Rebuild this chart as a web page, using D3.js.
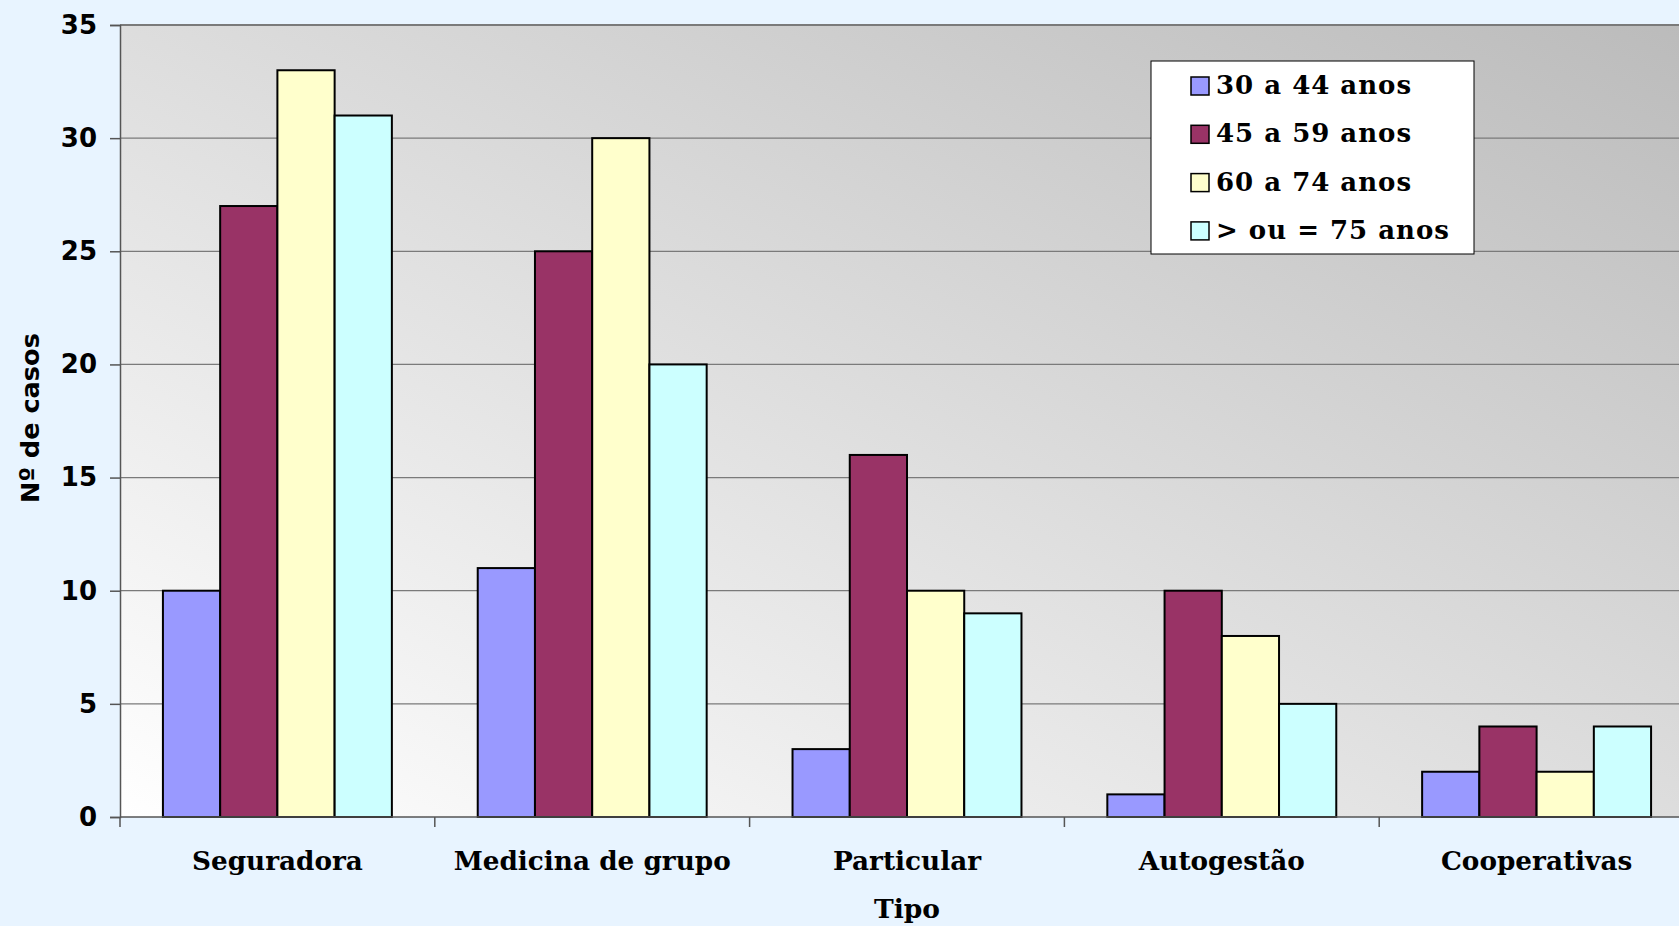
<!DOCTYPE html>
<html>
<head>
<meta charset="utf-8">
<script src="https://cdn.jsdelivr.net/npm/d3@7"></script>
<style>
  html, body { margin: 0; padding: 0; background: #E8F4FF; overflow: hidden; }
  svg { display: block; }
</style>
</head>
<body>
<svg id="chart" width="1679" height="926"></svg>
<script>
const categories = ["Seguradora", "Medicina de grupo", "Particular", "Autogestão", "Cooperativas"];
const seriesNames = ["30 a 44 anos", "45 a 59 anos", "60 a 74 anos", "> ou = 75 anos"];
const seriesColors = ["#9999FF", "#993366", "#FFFFCC", "#CCFFFF"];
const values30a44 = [10, 11, 3, 1, 2];
const values45a59 = [27, 25, 16, 10, 4];
const values60a74 = [33, 30, 10, 8, 2];
const values75mais = [31, 20, 9, 5, 4];
const yTicks = [0, 5, 10, 15, 20, 25, 30, 35];
const xTitle = "Tipo";
const yTitle = "Nº de casos";

const seriesValues = [values30a44, values45a59, values60a74, values75mais];

const svg = d3.select("#chart");
const mLeft = 120, mTop = 25, mBottom = 817;
const catW = 314.8;
const mRight = mLeft + catW * categories.length;

const x = d3.scaleBand().domain(categories).range([mLeft, mRight]).padding(0);
const xs = d3.scaleBand().domain(seriesNames).range([0, x.bandwidth()]).paddingInner(0).paddingOuter(0.75);
const y = d3.scaleLinear().domain([0, 35]).range([mBottom, mTop]);

// gradient (diagonal: white bottom-left to grey top-right)
const defs = svg.append("defs");
const grad = defs.append("linearGradient").attr("id", "plotGrad")
  .attr("x1", 0).attr("y1", 1).attr("x2", 1).attr("y2", 0);
grad.append("stop").attr("offset", "0%").attr("stop-color", "#FFFFFF");
grad.append("stop").attr("offset", "100%").attr("stop-color", "#BBBBBB");

svg.append("rect").attr("x", mLeft).attr("y", mTop).attr("width", mRight - mLeft).attr("height", mBottom - mTop)
  .attr("fill", "url(#plotGrad)");

// gridlines
svg.append("g").selectAll("line").data(yTicks.filter(d => d > 0)).join("line")
  .attr("x1", mLeft).attr("x2", mRight)
  .attr("y1", d => y(d)).attr("y2", d => y(d))
  .attr("stroke", "#7a7a7a").attr("stroke-width", d => d === 35 ? 2 : 1.2);

// bars
const gCat = svg.append("g").selectAll("g").data(categories).join("g")
  .attr("transform", d => `translate(${x(d)},0)`);
gCat.selectAll("rect").data((c, ci) => seriesNames.map((s, si) => ({ s, si, v: seriesValues[si][ci] }))).join("rect")
  .attr("x", d => xs(d.s))
  .attr("width", xs.bandwidth())
  .attr("y", d => y(d.v))
  .attr("height", d => y(0) - y(d.v))
  .attr("fill", d => seriesColors[d.si])
  .attr("stroke", "#000").attr("stroke-width", 2);

// y axis
const yAxis = d3.axisLeft(y).tickValues(yTicks).tickSize(10).tickPadding(13);
const gy = svg.append("g").attr("transform", `translate(${mLeft},0)`).call(yAxis);
gy.select(".domain").attr("stroke", "#555").attr("stroke-width", 1.5);
gy.selectAll(".tick line").attr("stroke", "#555").attr("stroke-width", 1.5);
gy.selectAll(".tick text").attr("font-family", "DejaVu Sans").attr("font-weight", "bold")
  .attr("font-size", 26).attr("fill", "#000");

// x axis
const boundaries = d3.range(categories.length + 1).map(i => mLeft + i * catW);
svg.append("line").attr("x1", mLeft).attr("x2", mRight).attr("y1", mBottom).attr("y2", mBottom)
  .attr("stroke", "#555").attr("stroke-width", 1.5);
svg.append("g").selectAll("line").data(boundaries).join("line")
  .attr("x1", d => d).attr("x2", d => d).attr("y1", mBottom).attr("y2", mBottom + 10)
  .attr("stroke", "#555").attr("stroke-width", 1.5);
svg.append("g").selectAll("text").data(categories).join("text")
  .attr("x", d => x(d) + x.bandwidth() / 2).attr("y", 870)
  .attr("text-anchor", "middle")
  .attr("font-family", "DejaVu Serif").attr("font-weight", "bold").attr("font-size", 26.3)
  .text(d => d);

// axis titles
svg.append("text").attr("x", mLeft + catW * 2.5).attr("y", 918).attr("text-anchor", "middle")
  .attr("font-family", "DejaVu Serif").attr("font-weight", "bold").attr("font-size", 26.5).text(xTitle);
svg.append("text").attr("transform", "translate(39,418) rotate(-90)").attr("text-anchor", "middle")
  .attr("font-family", "DejaVu Sans").attr("font-weight", "bold").attr("font-size", 25.6).text(yTitle);

// legend
const lg = svg.append("g").attr("transform", "translate(1151,61)");
lg.append("rect").attr("width", 323).attr("height", 193).attr("fill", "#fff").attr("stroke", "#000").attr("stroke-width", 1);
const items = lg.selectAll("g").data(seriesNames).join("g")
  .attr("transform", (d, i) => `translate(0,${33 + i * 48.3})`);
items.append("rect").attr("x", 40).attr("y", -17).attr("width", 18).attr("height", 18)
  .attr("fill", (d, i) => seriesColors[i]).attr("stroke", "#000").attr("stroke-width", 1.5);
items.append("text").attr("x", 65).attr("y", 0)
  .attr("font-family", "DejaVu Serif").attr("font-weight", "bold").attr("font-size", 26)
  .attr("letter-spacing", 1).text(d => d);
</script>
</body>
</html>
